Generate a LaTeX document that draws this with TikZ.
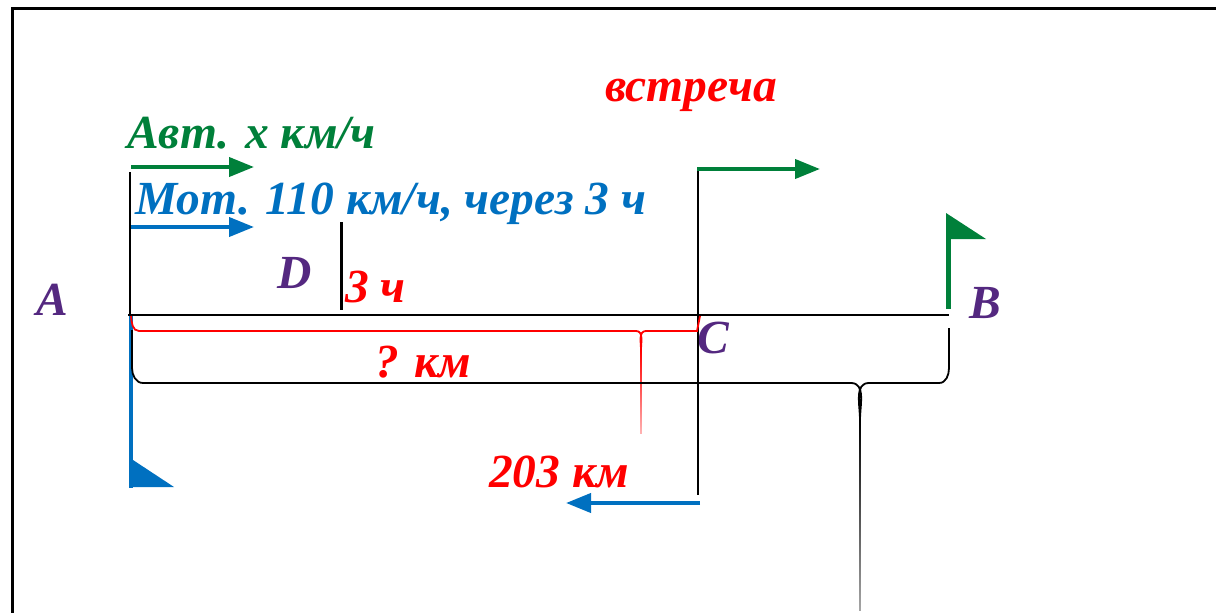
\documentclass[tikz,border=0pt]{standalone}
\usepackage{fontspec}
\setmainfont{Liberation Serif}
\usetikzlibrary{arrows.meta}
\definecolor{pgreen}{RGB}{0,128,58}
\definecolor{pblue}{RGB}{0,112,192}
\definecolor{ppurple}{RGB}{84,40,128}
\definecolor{pred}{RGB}{255,0,0}
\begin{document}
\begin{tikzpicture}[x=1pt,y=-1pt,
  lbl/.style={inner sep=0pt, anchor=base west, font=\fontsize{47.5}{47.5}\selectfont\bfseries\itshape},
  arr/.style={line width=4pt, -{Triangle[length=25pt,width=19pt]}},
  thinline/.style={line width=2pt, black},
  brace/.style={line width=1.8pt}]
\useasboundingbox (0,0) rectangle (1216,613);
% frame
\draw[line width=3pt] (12,613) -- (12,8) -- (1216,8);
% coordinates
\coordinate (a0) at (128,315);
\coordinate (b0) at (949,315);
\coordinate (aTop) at (130,172);
\coordinate (aBot) at (130,315);
\coordinate (dTop) at (341,222);
\coordinate (dBot) at (341,310);
\coordinate (cTop) at (698,168);
\coordinate (cBot) at (698,495);
% texts
\node[lbl, text=pgreen] (avt) at (127,148) {Авт. x км/ч};
\node[lbl, text=pblue] (mot) at (135,214) {Мот. 110 км/ч, через 3 ч};
\node[lbl, text=pred] (vstr) at (605,101) {встреча};
\node[lbl, text=ppurple] (D) at (277,288) {D};
\node[lbl, text=pred] (h3) at (345,302) {3 ч};
\node[lbl, text=ppurple] (A) at (36,315) {A};
\node[lbl, text=ppurple] (B) at (969,318) {B};
\node[lbl, text=ppurple] (C) at (697,353) {C};
\node[lbl, text=pred] (qkm) at (375,377) {? км};
\node[lbl, text=pred] (km203) at (489,487) {203 км};
% main line and verticals
\draw[thinline] (a0) -- (b0);
\draw[line width=1.5pt] (aTop) -- (aBot);
\draw[line width=3pt] (dTop) -- (dBot);
\draw[thinline] (cTop) -- (cBot);
% arrows
\coordinate (g1s) at (131,167); \coordinate (g1e) at (254,167);
\draw[arr, pgreen] (g1s) -- (g1e);
\coordinate (b1s) at (131,227); \coordinate (b1e) at (254,227);
\draw[arr, pblue] (b1s) -- (b1e);
\coordinate (g2s) at (697,169); \coordinate (g2e) at (820,169);
\draw[arr, pgreen] (g2s) -- (g2e);
\coordinate (b2s) at (700,503); \coordinate (b2e) at (566,503);
\draw[arr, pblue] (b2s) -- (b2e);
% blue flag at A
\coordinate (fbT) at (131,316); \coordinate (fbB) at (131,488);
\draw[line width=3.5pt, pblue] (fbT) -- (fbB);
\fill[pblue] (133,460) -- (133,487) -- (174,487) -- cycle;
% green flag at B
\coordinate (fgT) at (948.5,239); \coordinate (fgB) at (948.5,309);
\draw[line width=4.5pt, pgreen] (fgT) -- (fgB);
\fill[pgreen] (946,213) -- (946,239) -- (986,239) -- cycle;
% red brace A..C
\draw[brace, pred] (131,316) to[out=-85,in=180] (139,331) -- (636,331)
   to[out=0,in=90] (641,350);
\draw[brace, pred] (646,331) to[out=180,in=90] (641,350);
\draw[brace, pred] (646,331) -- (697,331) -- (700,316);
\shade[top color=pred, bottom color=pred!30] (640.2,350) rectangle (641.8,433);
% black brace A..B
\draw[brace] (132,330) -- (132,368) to[out=-90,in=180] (143,383) -- (851,383)
   to[out=0,in=90] (860,420);
\draw[brace] (949,328) -- (949,368) to[out=-90,in=0] (939,383) -- (869,383)
   to[out=180,in=90] (860,420);
\shade[top color=black, bottom color=black!35] (859.1,420) rectangle (860.9,610);
\end{tikzpicture}
\end{document}
